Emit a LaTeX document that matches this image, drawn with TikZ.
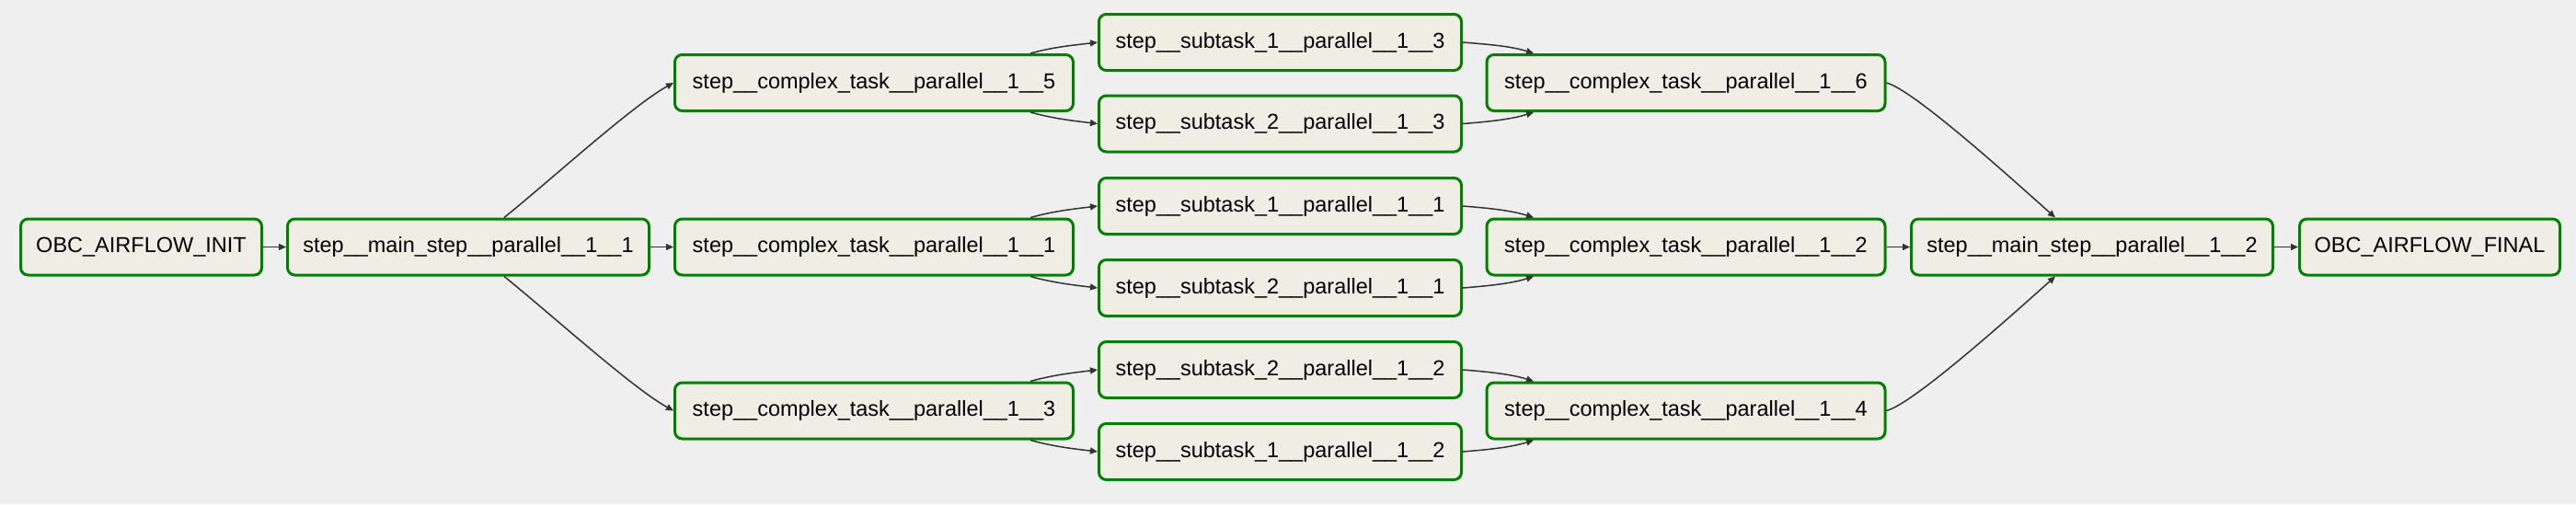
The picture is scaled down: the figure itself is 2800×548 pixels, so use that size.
\documentclass[tikz,border=0pt]{standalone}
\usepackage{fontspec}
\setmainfont{Liberation Sans}
\usetikzlibrary{arrows.meta,calc}
\definecolor{bgcol}{HTML}{EFEFEF}
\definecolor{boxgreen}{HTML}{008000}
\definecolor{boxfill}{HTML}{F0EDE4}
\definecolor{edgecol}{HTML}{333333}
\begin{document}
\begin{tikzpicture}[x=0.5pt,y=-0.5pt,
  taskbox/.style={draw=boxgreen, line width=1.5pt, fill=boxfill, rounded corners=4pt,
    minimum height=30.5pt, inner sep=0pt, text=black,
    font=\fontsize{11.75}{14}\selectfont},
  wInit/.style={minimum width=131pt},
  wMain/.style={minimum width=196.5pt},
  wComplex/.style={minimum width=216.5pt},
  wSub/.style={minimum width=197pt},
  wFinal/.style={minimum width=141.5pt},
  edge/.style={draw=edgecol, line width=0.75pt, -{Triangle[length=4pt,width=3.5pt]}}
]
\fill[bgcol] (0,0) rectangle (2800,548);
\useasboundingbox (0,0) rectangle (2800,548);

\node[taskbox,wInit] (init) at (153.5,268.5) {OBC\_AIRFLOW\_INIT};
\node[taskbox,wMain] (m1) at (509,268.5) {step\_\_main\_step\_\_parallel\_\_1\_\_1};
\node[taskbox,wComplex] (c5) at (950,90) {step\_\_complex\_task\_\_parallel\_\_1\_\_5};
\node[taskbox,wComplex] (c1) at (950,268.5) {step\_\_complex\_task\_\_parallel\_\_1\_\_1};
\node[taskbox,wComplex] (c3) at (950,446.5) {step\_\_complex\_task\_\_parallel\_\_1\_\_3};
\node[taskbox,wSub] (s13a) at (1391.5,46) {step\_\_subtask\_1\_\_parallel\_\_1\_\_3};
\node[taskbox,wSub] (s13b) at (1391.5,134.5) {step\_\_subtask\_2\_\_parallel\_\_1\_\_3};
\node[taskbox,wSub] (s11a) at (1391.5,224) {step\_\_subtask\_1\_\_parallel\_\_1\_\_1};
\node[taskbox,wSub] (s11b) at (1391.5,313) {step\_\_subtask\_2\_\_parallel\_\_1\_\_1};
\node[taskbox,wSub] (s12b) at (1391.5,402) {step\_\_subtask\_2\_\_parallel\_\_1\_\_2};
\node[taskbox,wSub] (s12a) at (1391.5,491) {step\_\_subtask\_1\_\_parallel\_\_1\_\_2};
\node[taskbox,wComplex] (c6) at (1832.5,90) {step\_\_complex\_task\_\_parallel\_\_1\_\_6};
\node[taskbox,wComplex] (c2) at (1832.5,268.5) {step\_\_complex\_task\_\_parallel\_\_1\_\_2};
\node[taskbox,wComplex] (c4) at (1832.5,446.5) {step\_\_complex\_task\_\_parallel\_\_1\_\_4};
\node[taskbox,wMain] (m2) at (2274,268.5) {step\_\_main\_step\_\_parallel\_\_1\_\_2};
\node[taskbox,wFinal] (fin) at (2641,268.5) {OBC\_AIRFLOW\_FINAL};

% straight edges
\draw[edge] (init.east) -- (m1.west);
\draw[edge] (m1.east) -- (c1.west);
\draw[edge] (c2.east) -- (m2.west);
\draw[edge] (m2.east) -- (fin.west);

% main 1 -> complex 5 / 3
\draw[edge] ($(m1.north)+(39,0)$) .. controls +(52,-42) and +(-45,25) .. (c5.west);
\draw[edge] ($(m1.south)+(39,0)$) .. controls +(52,42) and +(-45,-25) .. (c3.west);

% complex -> subtasks
\foreach \c/\a/\b in {c5/s13a/s13b, c1/s11a/s11b, c3/s12b/s12a}{
  \draw[edge] ($(\c.north)+(170,0)$) .. controls +(25,-7) and +(-25,3) .. (\a.west);
  \draw[edge] ($(\c.south)+(170,0)$) .. controls +(25,7) and +(-25,-3) .. (\b.west);
}

% subtasks -> complex
\foreach \a/\b/\c in {s13a/s13b/c6, s11a/s11b/c2, s12b/s12a/c4}{
  \draw[edge] (\a.east) .. controls +(25,2) and +(-25,-8) .. ($(\c.north)+(-165.5,0)$);
  \draw[edge] (\b.east) .. controls +(25,-2) and +(-25,8) .. ($(\c.south)+(-165.5,0)$);
}

% complex 6 / 4 -> main 2
\draw[edge] (c6.east) .. controls +(30,8) and +(-45,-40) .. ($(m2.north)+(-40,0)$);
\draw[edge] (c4.east) .. controls +(30,-8) and +(-45,40) .. ($(m2.south)+(-40,0)$);
\end{tikzpicture}
\end{document}
